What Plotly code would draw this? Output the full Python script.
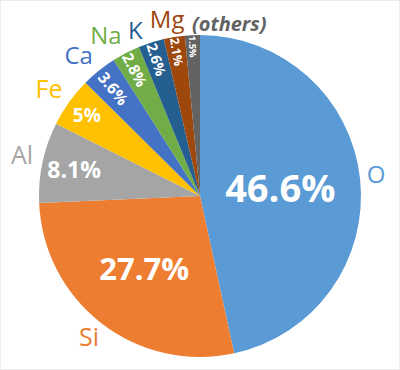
import numpy as np
import plotly.graph_objects as go

elements = ["O", "Si", "Al", "Fe", "Ca", "Na", "K", "Mg", "(others)"]
percents = [46.6, 27.7, 8.1, 5, 3.6, 2.8, 2.6, 2.1, 1.5]
pct_labels = ["46.6%", "27.7%", "8.1%", "5%", "3.6%", "2.8%", "2.6%", "2.1%", "1.5%"]
colors = ["#5B9BD5", "#ED7D31", "#A5A5A5", "#FFC000", "#4472C4",
          "#70AD47", "#255E91", "#9E480E", "#636363"]

# style: per-label text placement / sizes
outside_text = [("<i><b>%s</b></i>" % e) if e.startswith("(") else e for e in elements]
outside_sizes = [24, 25, 25, 25, 24, 24, 24, 24, 20]
outside_r = [1.10, 1.13, 1.13, 1.14, 1.14, 1.14, 1.09, 1.10, 1.06]
outside_nudge_deg = [0, 0, 0, -1, -2.5, -3.5, -4, -1.5, 0]
outside_pos = ["middle center"] * 8 + ["middle right"]

big = [i < 4 for i in range(len(elements))]
big_text = [t if b else "" for t, b in zip(pct_labels, big)]
small_text = [t if not b else "" for t, b in zip(pct_labels, big)]
big_sizes = [38, 31, 23, 19, 15, 15, 15, 15, 15]
small_sizes = [16, 16, 15, 15, 16, 16, 16, 16, 15]

FONT = "Open Sans"

# page geometry (style): pie centre and radius in pixels
W, H = 400, 370
CX, CY, R = 200, 196, 161
pie_domain = dict(x=[(CX - R) / W, (CX + R) / W],
                  y=[(H - CY - R) / H, (H - CY + R) / H])

common = dict(values=percents, labels=elements, sort=False, direction="clockwise",
              rotation=0, hole=0, showlegend=False, hoverinfo="skip",
              domain=pie_domain)

# mid angle of each slice (clockwise from 12 o'clock)
vals = np.array(percents, dtype=float)
mid_deg = (np.cumsum(vals) - vals / 2) / vals.sum() * 360.0
lab_rad = np.deg2rad(mid_deg + np.array(outside_nudge_deg))
lab_r = np.array(outside_r)
lab_x = lab_r * np.sin(lab_rad)
lab_y = lab_r * np.cos(lab_rad)

fig = go.Figure()
fig.add_trace(go.Pie(
    **common,
    marker=dict(colors=colors, line=dict(color="white", width=0)),
    text=big_text, texttemplate="%{text}", textposition="inside",
    insidetextorientation="horizontal",
    textfont=dict(family=FONT, size=big_sizes, color="white", weight="bold"),
))
fig.add_trace(go.Pie(
    **common,
    marker=dict(colors=["rgba(0,0,0,0)"] * len(elements)),
    text=small_text, texttemplate="%{text}", textposition="inside",
    insidetextorientation="radial",
    textfont=dict(family=FONT, size=small_sizes, color="white", weight="bold"),
))
fig.add_trace(go.Scatter(
    x=lab_x, y=lab_y, mode="text",
    text=outside_text, textposition=outside_pos,
    textfont=dict(family=FONT, size=outside_sizes, color=colors),
    cliponaxis=False, showlegend=False, hoverinfo="skip",
))

fig.update_layout(
    width=W, height=H,
    margin=dict(l=0, r=0, t=0, b=0),
    paper_bgcolor="white", plot_bgcolor="rgba(0,0,0,0)",
    xaxis=dict(visible=False, range=[-CX / R, (W - CX) / R], fixedrange=True),
    yaxis=dict(visible=False, range=[-(H - CY) / R, CY / R], fixedrange=True),
    shapes=[dict(type="rect", xref="paper", yref="paper",
                 x0=0, x1=1, y0=0, y1=1,
                 line=dict(color="#E6E6E6", width=1.5), layer="below")],
)
fig.write_html("out.html", config=dict(displayModeBar=False),
               post_script="document.body.style.margin='0px';")
